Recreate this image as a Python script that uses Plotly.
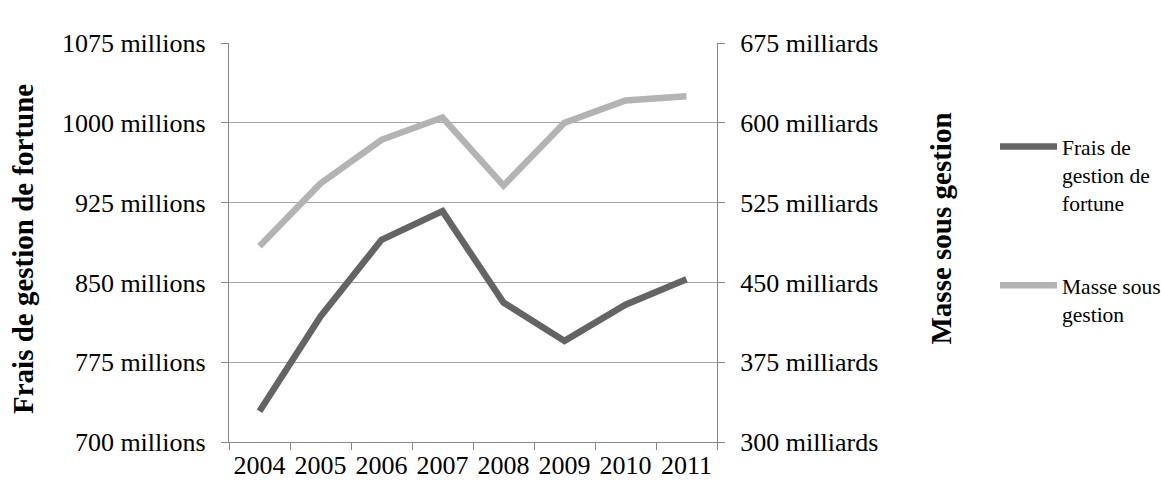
import plotly.graph_objects as go

years = ["2004", "2005", "2006", "2007", "2008", "2009", "2010", "2011"]
frais = [729, 818, 890, 917, 831, 795, 829, 853]          # millions
masse = [484, 543, 584, 605, 541, 600, 621, 625]          # milliards

left_ticks = [700, 775, 850, 925, 1000, 1075]
right_ticks = [300, 375, 450, 525, 600, 675]

FONT = "'Liberation Serif', 'Times New Roman', serif"
DARK = "#646464"
LIGHT = "#b3b3b3"

fig = go.Figure()
fig.add_trace(go.Scatter(x=years, y=frais, mode="lines", name="Frais de<br>gestion de<br>fortune",
                         line=dict(color=DARK, width=6.5), yaxis="y", legendgroup="a"))
fig.add_trace(go.Scatter(x=years, y=masse, mode="lines", name="Masse sous<br>gestion",
                         line=dict(color=LIGHT, width=6.5), yaxis="y2", legendgroup="b"))

W, H = 1161, 482
L, R, T, B = 229, 444, 43, 40
pw, ph = W - L - R, H - T - B

fig.update_layout(
    width=W, height=H,
    margin=dict(l=L, r=R, t=T, b=B, pad=0, autoexpand=False),
    paper_bgcolor="white", plot_bgcolor="white",
    font=dict(family=FONT, size=26, color="#000000"),
    showlegend=True,
    legend=dict(x=(995 - L) / pw, y=(H - B - 126) / ph, xanchor="left", yanchor="top",
                valign="top", tracegroupgap=52, itemwidth=57,
                font=dict(family=FONT, size=21.5, color="#000000"),
                bgcolor="rgba(0,0,0,0)"),
    xaxis=dict(type="category", showgrid=False, showline=True, linecolor="#868686", linewidth=1.3,
               ticks="outside", tickson="boundaries", ticklen=7, tickcolor="#868686",
               tickfont=dict(family=FONT, size=26), range=[-0.5, 7.5], automargin=False),
    yaxis=dict(range=[700, 1075], tickvals=left_ticks, ticktext=[f"{v} millions" for v in left_ticks],
               showgrid=True, gridcolor="#a6a6a6", gridwidth=1.3, zeroline=False,
               showline=True, linecolor="#868686", linewidth=1.3,
               ticks="outside", ticklen=7, tickcolor="#868686", tickfont=dict(family=FONT, size=26),
               ticklabelstandoff=10, automargin=False),
    yaxis2=dict(range=[300, 675], tickvals=right_ticks, ticktext=[f"{v} milliards" for v in right_ticks],
                overlaying="y", side="right", showgrid=False, zeroline=False,
                showline=True, linecolor="#868686", linewidth=1.3,
                ticks="outside", ticklen=7, tickcolor="#868686", tickfont=dict(family=FONT, size=26),
                ticklabelstandoff=10, automargin=False),
    annotations=[
        dict(text="<b>Frais de gestion de fortune</b>", xref="paper", yref="paper",
             x=(23 - L) / pw, y=(H - B - 249) / ph, xanchor="center", yanchor="middle",
             textangle=-90, showarrow=False, font=dict(family=FONT, size=29, color="#000000")),
        dict(text="<b>Masse sous gestion</b>", xref="paper", yref="paper",
             x=(940 - L) / pw, y=(H - B - 228.5) / ph, xanchor="center", yanchor="middle",
             textangle=-90, showarrow=False, font=dict(family=FONT, size=29, color="#000000")),
    ],
)

fig.write_html("out.html")
